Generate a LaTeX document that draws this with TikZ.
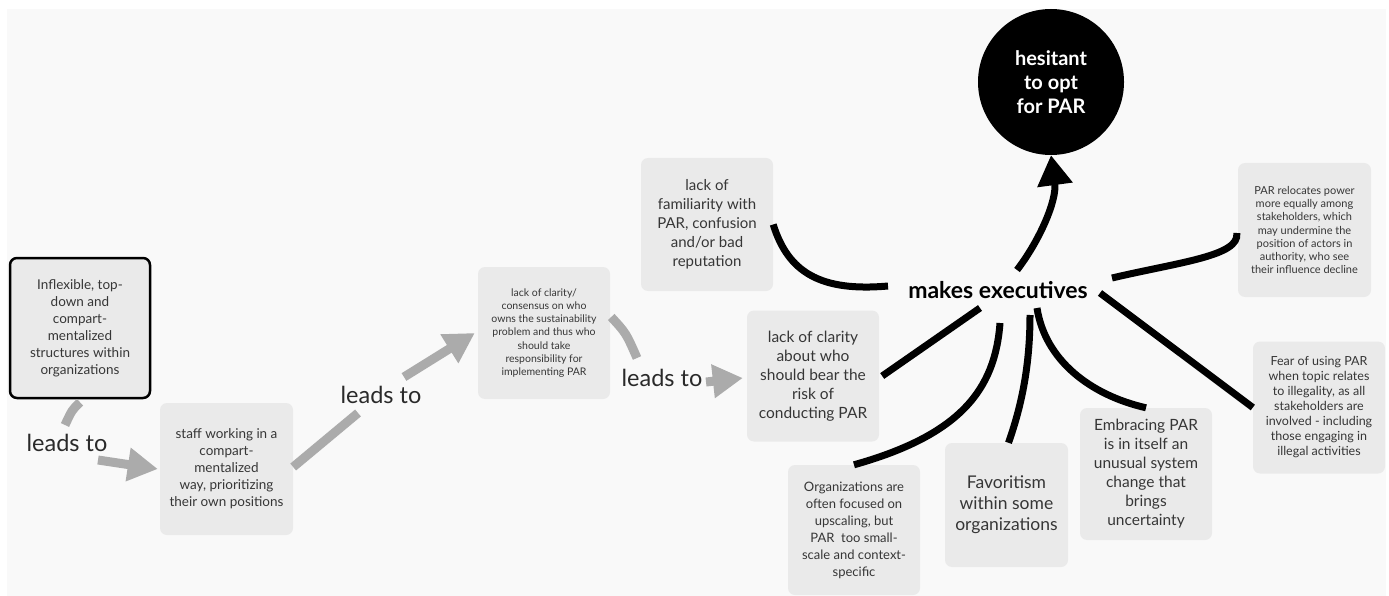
\documentclass[tikz,border=0pt]{standalone}
\usepackage{fontspec}
\setmainfont{Lato}
\usetikzlibrary{arrows.meta,calc}
\definecolor{canvas}{HTML}{F9F9F9}
\definecolor{boxfill}{HTML}{EAEAEA}
\definecolor{boxtext}{HTML}{363636}
\definecolor{flowgrey}{HTML}{ABABAB}
\definecolor{labeltext}{HTML}{2A2A2A}
\newcommand{\fs}[2]{\fontsize{#1}{#2}\selectfont}
\tikzset{
  card/.style={fill=boxfill, rounded corners=7pt, text=boxtext, align=center,
    inner sep=0pt},
  leadlabel/.style={text=labeltext, font=\fs{23.5}{27}, inner sep=2pt},
  flow/.style={draw=flowgrey, line width=9pt},
  flowtip/.style={-{Triangle[length=30pt,width=32pt]}},
  link/.style={draw=black, line width=7pt},
}
\begin{document}
\begin{tikzpicture}[x=1pt,y=-1pt]
\useasboundingbox (0,0) rectangle (1389,596);
\fill[canvas] (7,9) rectangle (1386,596);

% cards
\node[card, draw=black, line width=2.5pt, minimum width=140pt, minimum height=140pt, font=\fs{13.5}{17}]
  (b1) at (80,328) {Inflexible, top-\\down and\\compart-\\mentalized\\structures within\\organizations};
\node[card, minimum width=133pt, minimum height=132pt, font=\fs{13.5}{17}]
  (b2) at (226.5,469) {staff working in a\\compart-\\mentalized\\way, prioritizing\\their own positions};
\node[card, minimum width=132pt, minimum height=132pt, font=\fs{10.5}{13.3}]
  (b3) at (544,333) {lack of clarity/\\consensus on who\\owns the sustainability\\problem and thus who\\should take\\responsibility for\\implementing PAR};
\node[card, minimum width=132pt, minimum height=133pt, font=\fs{15}{19}]
  (b4) at (707,224.5) {lack of\\familiarity with\\PAR, confusion\\and/or bad\\reputation};
\node[card, minimum width=132pt, minimum height=131pt, font=\fs{15.5}{19}]
  (b5) at (813,376) {lack of clarity\\about who\\should bear the\\risk of\\conducting PAR};
\node[card, minimum width=132pt, minimum height=130pt, font=\fs{13}{17}]
  (b6) at (854,530) {Organizations are\\often focused on\\upscaling, but\\PAR\ \ too small-\\scale and context-\\specific};
\node[card, minimum width=123pt, minimum height=124pt, font=\fs{17.5}{21}]
  (b7) at (1006.5,505) {Favoritism\\within some\\organizations};
\node[card, minimum width=132pt, minimum height=132pt, font=\fs{15.5}{19}]
  (b8) at (1146,474) {Embracing PAR\\is in itself an\\unusual system\\change that\\brings\\uncertainty};
\node[card, minimum width=133pt, minimum height=134pt, font=\fs{11}{13.3}]
  (b9) at (1304.5,230) {PAR relocates power\\more equally among\\stakeholders, which\\may undermine the\\position of actors in\\authority, who see\\their influence decline};
\node[card, minimum width=132pt, minimum height=132pt, font=\fs{12.5}{15}]
  (b10) at (1319,407.5) {Fear of using PAR\\when topic relates\\to illegality, as all\\stakeholders are\\involved - including\\those engaging in\\illegal activities};

% outcome
\node[circle, fill=black, text=white, minimum size=146pt, inner sep=0pt, align=center,
  font=\bfseries\fs{20}{24}] (hes) at (1051,82) {hesitant\\to opt\\for PAR};
\node[font=\bfseries\fs{23}{27}, inner sep=2pt] (mk) at (998,290) {makes executives};

% "leads to" labels
\node[leadlabel] (lab1) at (67,443) {leads to};
\node[leadlabel] (lab2) at (381,395) {leads to};
\node[leadlabel] (lab3) at (662,378) {leads to};

% grey causal chain
\draw[flow] ($(b1.south)+(0,3)$) .. controls (72,410) .. ($(lab1)+(-2,-18)$);
\draw[flow, flowtip] ($(lab1)+(31,17)$) -- ($(b2.west)+(-2,0)$);
\draw[flow] ($(b2.east)+(0,-2)$) -- ($(lab2)+(-23,18)$);
\draw[flow, flowtip] ($(lab2)+(23,-18)$) -- ($(b3.west)+(-3,0)$);
\draw[flow] ($(b3.east)+(1,-16)$) .. controls (626,333) .. ($(lab3)+(-25,-20)$);
\draw[flow, flowtip] ($(lab3)+(44,4)$) -- ($(b5.west)+(-4,2)$);

% black links around "makes executives"
\draw[link, -{Triangle[length=30pt,width=34pt]}] ($(mk)+(19,-20)$) .. controls (1040,240) and (1057,200) .. (hes.south);
\draw[link] ($(mk)+(-110,-4)$) .. controls (820,292) and (788,272) .. (b4.east);
\draw[link] ($(mk)+(-18,18)$) -- ($(b5.east)+(3,0)$);
\draw[link] ($(mk)+(2,33)$) .. controls (995,390) and (960,435) .. (b6.north);
\draw[link] ($(mk)+(32,25)$) .. controls (1030,370) and (1020,410) .. ($(b7.north)+(2,0)$);
\draw[link] ($(mk)+(39,18)$) .. controls (1045,360) and (1090,395) .. (b8.north);
\draw[link] ($(mk)+(102,3)$) -- (b10.west);
\draw[link] ($(mk)+(114,-12)$) .. controls (1180,262) and (1240,256) .. ($(b9.west)+(-1,3)$);
\end{tikzpicture}
\end{document}
